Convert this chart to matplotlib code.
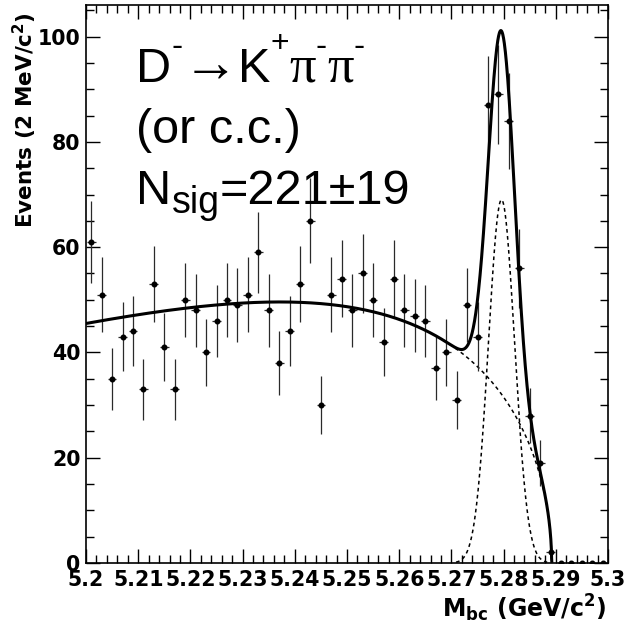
import numpy as np
import matplotlib
matplotlib.use("Agg")
import matplotlib.pyplot as plt
from matplotlib.ticker import MultipleLocator, FixedLocator

# ---------------- data ----------------
bin_width = 0.002
mbc_low, mbc_high = 5.2, 5.3
counts = [61, 51, 35, 43, 44, 33, 53, 41, 33, 50,
          48, 40, 46, 50, 49, 51, 59, 48, 38, 44,
          53, 65, 30, 51, 54, 48, 55, 50, 42, 54,
          48, 47, 46, 37, 40, 31, 49, 43, 87, 89,
          84, 56, 28, 19, 2, 0, 0, 0, 0, 0]

# fit model parameters (ARGUS background + Gaussian signal)
argus_m0 = 5.2892
argus_c = -25.0
bkg_at_low_edge = 45.5
sig_mean = 5.2796
sig_sigma = 0.0025
sig_peak = 69.0

xtick_values = [5.2, 5.21, 5.22, 5.23, 5.24, 5.25, 5.26, 5.27, 5.28, 5.29, 5.3]
xtick_labels = ["5.2", "5.21", "5.22", "5.23", "5.24", "5.25", "5.26", "5.27", "5.28", "5.29", "5.3"]
ytick_values = [0, 20, 40, 60, 80, 100]

xlabel = r"M$_{\mathbf{bc}}$ (GeV/c$^{\mathbf{2}}$)"
ylabel = r"Events (2 MeV/c$^{\mathbf{2}}$)"

# ---------------- style ----------------
SANS = ["Liberation Sans", "DejaVu Sans"]
SERIF = ["Liberation Serif", "DejaVu Serif"]
plt.rcParams["font.family"] = ["DejaVu Sans"]
plt.rcParams["mathtext.fontset"] = "dejavusans"

W, H = 626, 629
fig = plt.figure(figsize=(W / 100, H / 100), dpi=100)
ax = fig.add_axes([86 / W, 1 - 563 / H, (608 - 86) / W, (563 - 5) / H])

centers = np.arange(len(counts)) * bin_width + mbc_low + bin_width / 2
counts_arr = np.array(counts, dtype=float)
yerr = np.sqrt(counts_arr)

ax.errorbar(centers, counts_arr, yerr=yerr, xerr=bin_width * 0.42,
            fmt="o", color="black", ms=3.3, mec="black", mfc="black",
            ecolor="#2a2a2a", elinewidth=0.9, capsize=0, zorder=3)


def argus(m):
    u = np.clip(1 - (m / argus_m0) ** 2, 0, None)
    return m * np.sqrt(u) * np.exp(argus_c * u)


norm = bkg_at_low_edge / argus(np.array([mbc_low]))[0]
m = np.linspace(mbc_low, mbc_high, 2000)
bkg = norm * argus(m)
sig = sig_peak * np.exp(-0.5 * ((m - sig_mean) / sig_sigma) ** 2)
tot = bkg + sig

ax.plot(m, np.where(bkg > 0, bkg, np.nan), color="black", lw=1.1, ls=(0, (2.4, 2.2)), zorder=2)
ax.plot(m, np.where(sig > 0.15, sig, np.nan), color="black", lw=1.1, ls=(0, (2.4, 2.2)), zorder=2)
mask = m <= argus_m0 + 0.00005
ax.plot(m[mask], tot[mask], color="black", lw=2.2, zorder=4, solid_capstyle="butt")

ax.set_xlim(mbc_low, mbc_high)
ax.set_ylim(0, 106)

ax.xaxis.set_major_locator(FixedLocator(xtick_values))
ax.set_xticklabels(xtick_labels)
ax.xaxis.set_minor_locator(MultipleLocator(0.002))
ax.yaxis.set_major_locator(FixedLocator(ytick_values))
ax.yaxis.set_minor_locator(MultipleLocator(5))

ax.tick_params(which="both", direction="in", top=True, right=True, width=1.0)
ax.tick_params(which="major", length=10)
ax.tick_params(which="minor", length=5.5)
ax.tick_params(axis="x", which="major", pad=5)
ax.tick_params(axis="y", which="major", pad=4)
for lab in ax.get_xticklabels() + ax.get_yticklabels():
    lab.set_fontsize(14.8)
    lab.set_fontweight("bold")
    lab.set_family("DejaVu Sans")
for sp in ax.spines.values():
    sp.set_linewidth(1.2)

fig.text(607 / W, 1 - 617 / H, xlabel, ha="right", va="baseline",
         fontsize=17, fontweight="bold")
fig.text(33 / W, 1 - 12 / H, ylabel, ha="right", va="baseline", rotation=90,
         fontsize=15.5, fontweight="bold", rotation_mode="anchor")

# ---------------- annotation text (ROOT-like TLatex) ----------------
renderer = fig.canvas.get_renderer()


def draw_pieces(x_px, base_px, pieces):
    for s, size, fam, raise_px in pieces:
        t = fig.text(x_px / W, (H - base_px + raise_px) / H, s, fontsize=size,
                     family=fam, ha="left", va="baseline")
        bb = t.get_window_extent(renderer=renderer)
        x_px = bb.x1


draw_pieces(136.5, 82, [("D", 35, SANS, 0), ("-", 24, SANS, 26),
                        ("\u2192", 40, SANS, 0), ("K", 35, SANS, 0),
                        ("+", 23, SANS, 30), ("\u03c0", 38, SERIF, 0),
                        ("-", 24, SANS, 26), ("\u03c0", 38, SERIF, 0),
                        ("-", 24, SANS, 26)])
draw_pieces(136.5, 143, [("(or c.c.)", 35, SANS, 0)])
draw_pieces(136.5, 204, [("N", 35, SANS, 0), ("sig", 27, SANS, -9),
                         ("=221\u00b119", 35, SANS, 0)])

fig.savefig("out.png", dpi=100)
